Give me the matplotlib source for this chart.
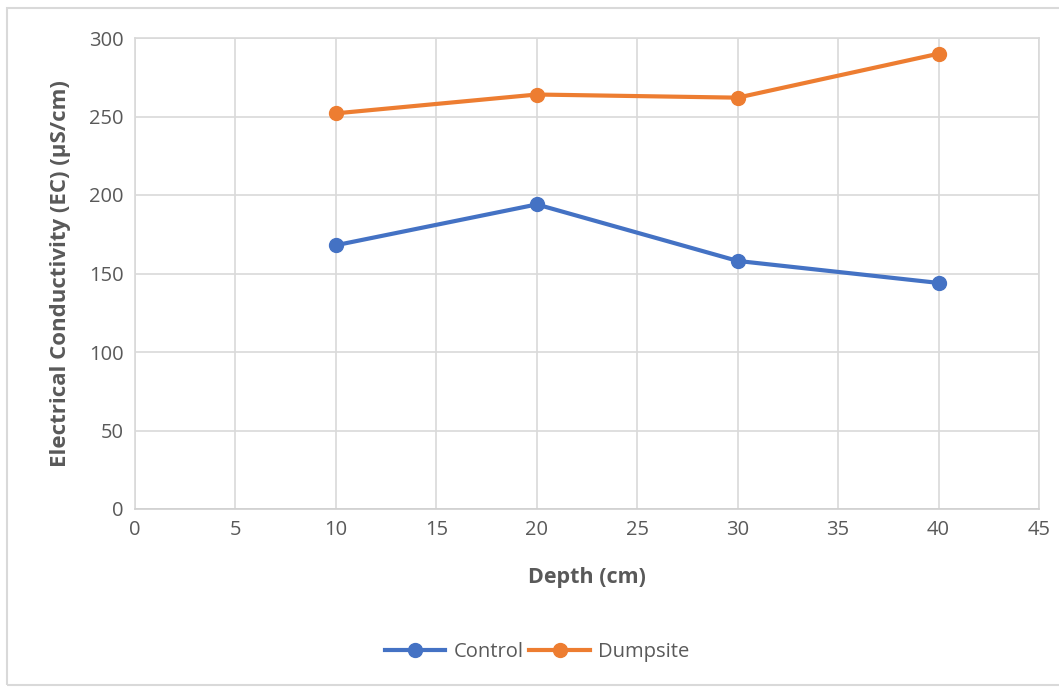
import matplotlib.pyplot as plt
from matplotlib.patches import Rectangle

depth = [10, 20, 30, 40]
control = [168, 194, 158, 144]
dumpsite = [252, 264, 262, 290]

x_ticks = list(range(0, 50, 5))
y_ticks = list(range(0, 350, 50))

plt.rcParams['font.family'] = ['Open Sans', 'DejaVu Sans']
txt = '#595959'
grid = '#d9d9d9'

fig = plt.figure(figsize=(10.59, 6.87), dpi=100)
ax = fig.add_axes([135 / 1059, 1 - 509 / 687, (1039 - 135) / 1059, (509 - 38) / 687])

ax.plot(depth, control, color='#4472c4', lw=3, marker='o', ms=10, label='Control')
ax.plot(depth, dumpsite, color='#ed7d31', lw=3, marker='o', ms=10, label='Dumpsite')

ax.set_xlim(0, 45)
ax.set_ylim(0, 300)
ax.set_xticks(x_ticks)
ax.set_yticks(y_ticks)
ax.grid(True, color=grid, lw=1.2)
ax.set_axisbelow(True)
for s in ax.spines.values():
    s.set_color(grid)
    s.set_linewidth(1.2)
ax.spines['bottom'].set_color('#d0d0d0')
ax.tick_params(length=0, labelsize=14.5, colors=txt, pad=8)

ax.set_xlabel('Depth (cm)', fontsize=15.5, fontweight='bold', color=txt, labelpad=19)
ax.set_ylabel('Electrical Conductivity (EC) (µS/cm)', fontsize=16, fontweight='bold', color=txt, labelpad=13)

fig.legend(loc='center', bbox_to_anchor=(537 / 1059, 1 - 652 / 687), ncol=2, frameon=False,
           fontsize=14.5, labelcolor=txt, handlelength=3, columnspacing=0.3, handletextpad=0.4)

fig.patches.append(Rectangle((7 / 1059, 2 / 687), 1.1, 1 - 10 / 687, transform=fig.transFigure,
                             fill=False, edgecolor='#d9d9d9', lw=1.5))

plt.savefig('out.png')
